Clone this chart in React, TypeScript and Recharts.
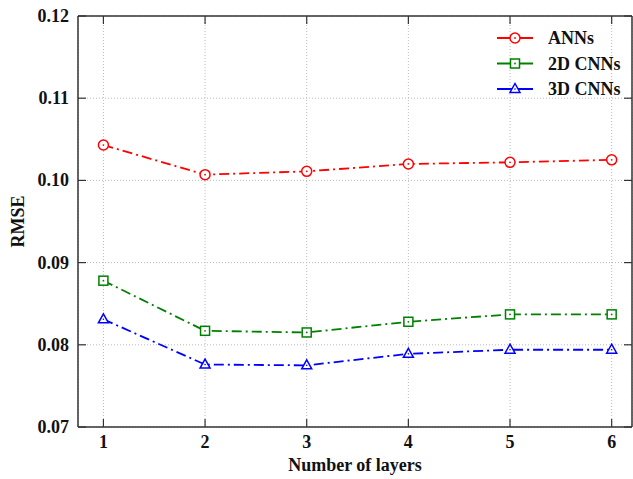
import React from 'react';
import { LineChart, Line, XAxis, YAxis, CartesianGrid, ReferenceLine } from 'recharts';

const layers = [1, 2, 3, 4, 5, 6];
const annRmse = [0.1043, 0.1007, 0.1011, 0.102, 0.1022, 0.1025];
const cnn2dRmse = [0.0878, 0.0817, 0.0815, 0.0828, 0.0837, 0.0837];
const cnn3dRmse = [0.0831, 0.0776, 0.0775, 0.0789, 0.0794, 0.0794];
const yTicks = [0.07, 0.08, 0.09, 0.1, 0.11, 0.12];
const seriesNames = ['ANNs', '2D CNNs', '3D CNNs'];

const data = layers.map((n, i) => ({
    n,
    ann: annRmse[i],
    cnn2d: cnn2dRmse[i],
    cnn3d: cnn3dRmse[i],
}));

const FONT = '"Liberation Serif", "DejaVu Serif", serif';
const PLOT_TOP = 16;
const PLOT_BOTTOM = 427;
const PLOT_LEFT = 78;
const PLOT_RIGHT = 632;
const TICK = 8;
const AXIS = '#333';
const DASH = '10 4 2 4';

type Shape = 'circle' | 'square' | 'triangle';

const series: { key: string; name: string; color: string; shape: Shape }[] = [
    { key: 'ann', name: seriesNames[0], color: '#ff0000', shape: 'circle' },
    { key: 'cnn2d', name: seriesNames[1], color: '#008000', shape: 'square' },
    { key: 'cnn3d', name: seriesNames[2], color: '#0000ff', shape: 'triangle' },
];

const Marker = ({ cx, cy, color, shape }: { cx: number; cy: number; color: string; shape: Shape }) => {
    if (shape === 'circle') {
        return (
            <g>
                <circle cx={cx} cy={cy} r={5} fill="#fff" stroke={color} strokeWidth={1.5} />
                <circle cx={cx} cy={cy} r={0.9} fill={color} />
            </g>
        );
    }
    if (shape === 'square') {
        return (
            <g>
                <rect x={cx - 4.5} y={cy - 4.5} width={9} height={9} fill="#fff" stroke={color} strokeWidth={1.5} />
                <circle cx={cx} cy={cy} r={0.9} fill={color} />
            </g>
        );
    }
    return (
        <g>
            <path d={`M${cx},${cy - 5.5} L${cx + 5},${cy + 3.5} L${cx - 5},${cy + 3.5} Z`} fill="#fff" stroke={color} strokeWidth={1.5} />
            <circle cx={cx} cy={cy} r={0.8} fill={color} />
        </g>
    );
};

const XTick = (props: any) => {
    const { x, payload } = props;
    return (
        <g>
            <line x1={x} x2={x} y1={PLOT_BOTTOM} y2={PLOT_BOTTOM - TICK} stroke={AXIS} strokeWidth={1.2} />
            <line x1={x} x2={x} y1={PLOT_TOP} y2={PLOT_TOP + TICK} stroke={AXIS} strokeWidth={1.2} />
            <text x={x} y={PLOT_BOTTOM + 21} textAnchor="middle" fontFamily={FONT} fontWeight="bold" fontSize={18} fill="#111">
                {payload.value}
            </text>
        </g>
    );
};

const YTick = (props: any) => {
    const { y, payload } = props;
    return (
        <g>
            <line x1={PLOT_LEFT} x2={PLOT_LEFT + TICK} y1={y} y2={y} stroke={AXIS} strokeWidth={1.2} />
            <line x1={PLOT_RIGHT - TICK} x2={PLOT_RIGHT} y1={y} y2={y} stroke={AXIS} strokeWidth={1.2} />
            <text x={PLOT_LEFT - 9} y={y + 6} textAnchor="end" fontFamily={FONT} fontWeight="bold" fontSize={18} fill="#111">
                {Number(payload.value).toFixed(2)}
            </text>
        </g>
    );
};

const LegendBox = () => (
    <svg width={140} height={80}>
        {series.map((s, i) => {
            const cy = 13 + i * 25.5;
            return (
                <g key={s.key}>
                    <line x1={7} x2={43} y1={cy} y2={cy} stroke={s.color} strokeWidth={1.8} />
                    <Marker cx={25} cy={cy} color={s.color} shape={s.shape} />
                    <text x={58} y={cy + 6} fontFamily={FONT} fontWeight="bold" fontSize={18} fill="#111">
                        {s.name}
                    </text>
                </g>
            );
        })}
    </svg>
);

export default function App() {
    return (
        <div style={{ position: 'absolute', left: 0, top: 0, width: 633, height: 479, background: '#fff' }}>
            <LineChart width={633} height={479} data={data} margin={{ top: PLOT_TOP, right: 1, bottom: 0, left: 0 }}>
                <CartesianGrid stroke="#bbb" strokeDasharray="1 2" />
                <XAxis
                    type="number"
                    dataKey="n"
                    domain={[0.75, 6.2]}
                    ticks={layers}
                    height={52}
                    tickSize={0}
                    tickMargin={0}
                    tickLine={false}
                    axisLine={{ stroke: AXIS, strokeWidth: 1.5 }}
                    tick={<XTick />}
                    interval={0}
                    label={{
                        value: 'Number of layers',
                        position: 'insideBottom',
                        offset: 8,
                        style: { fontFamily: FONT, fontWeight: 'bold', fontSize: 18, fill: '#111' },
                    }}
                />
                <YAxis
                    type="number"
                    domain={[0.07, 0.12]}
                    ticks={yTicks}
                    width={PLOT_LEFT}
                    tickSize={0}
                    tickMargin={0}
                    tickLine={false}
                    axisLine={{ stroke: AXIS, strokeWidth: 1.5 }}
                    tick={<YTick />}
                    interval={0}
                    allowDataOverflow
                    label={{
                        value: 'RMSE',
                        angle: -90,
                        position: 'insideLeft',
                        offset: 18,
                        style: { fontFamily: FONT, fontWeight: 'bold', fontSize: 18, fill: '#111', textAnchor: 'middle' },
                    }}
                />
                <ReferenceLine x={6.2} stroke={AXIS} strokeWidth={1.5} />
                <ReferenceLine y={0.12} stroke={AXIS} strokeWidth={1.5} />
                {series.map((s) => (
                    <Line
                        key={s.key}
                        type="linear"
                        dataKey={s.key}
                        name={s.name}
                        stroke={s.color}
                        strokeWidth={1.8}
                        strokeDasharray={DASH}
                        isAnimationActive={false}
                        dot={(p: any) => <Marker key={`${s.key}-${p.index}`} cx={p.cx} cy={p.cy} color={s.color} shape={s.shape} />}
                        activeDot={false}
                    />
                ))}
            </LineChart>
            <div style={{ position: 'absolute', left: 490, top: 25 }}>
                <LegendBox />
            </div>
        </div>
    );
}
